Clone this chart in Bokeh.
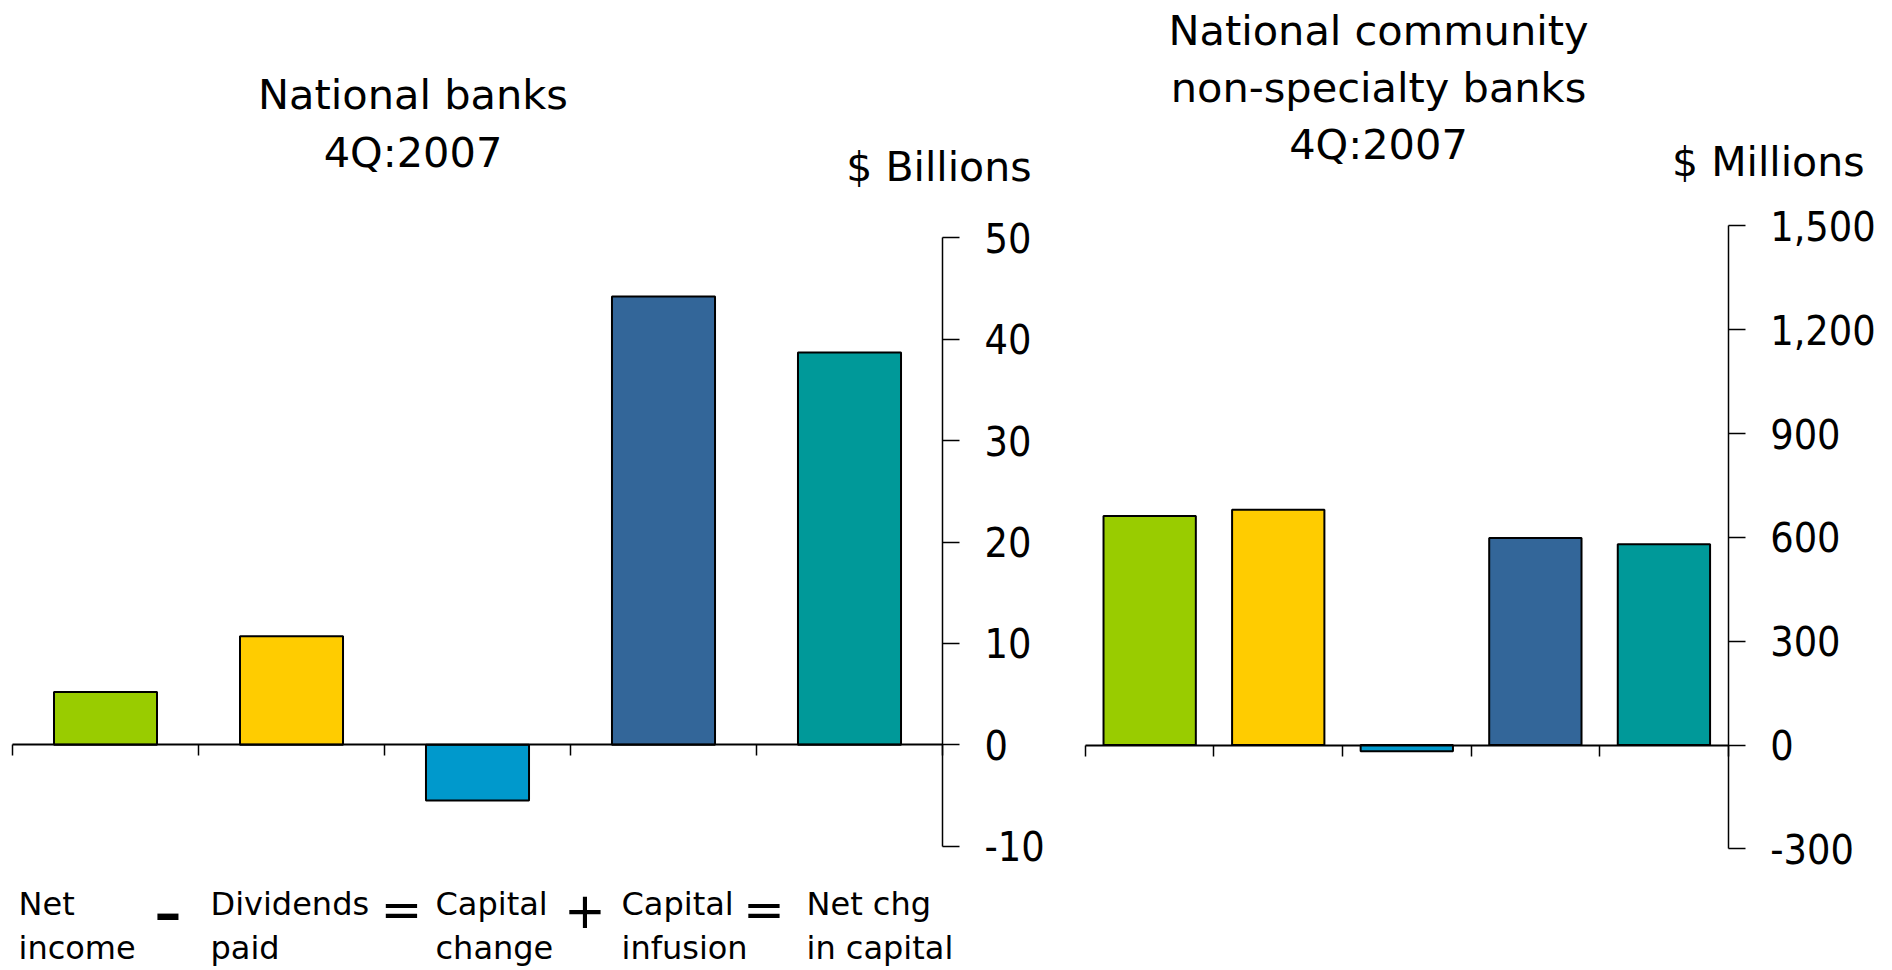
from bokeh.plotting import figure
from bokeh.models import Range1d, LinearAxis, FixedTicker, NumeralTickFormatter, ColumnDataSource
from bokeh.layouts import row
from bokeh.core.properties import value
from bokeh.embed import file_html
from bokeh.resources import INLINE

# ---------------- data ----------------
categories = ["Net income", "Dividends paid", "Capital change", "Capital infusion", "Net chg in capital"]
label_line1 = ["Net", "Dividends", "Capital", "Capital", "Net chg"]
label_line2 = ["income", "paid", "change", "infusion", "in capital"]
operators = ["-", "=", "+", "="]
colors = ["#99CC00", "#FFCC00", "#0099CC", "#336699", "#009999"]
national_banks = [5.2, 10.7, -5.5, 44.2, 38.7]        # $ billions
community_banks = [662, 680, -18, 598, 580]           # $ millions
left_ticks = [-10, 0, 10, 20, 30, 40, 50]
right_ticks = [-300, 0, 300, 600, 900, 1200, 1500]
left_title = ["National banks", "4Q:2007"]
right_title = ["National community", "non-specialty banks", "4Q:2007"]
left_unit = "$ Billions"
right_unit = "$ Millions"

FONT = "DejaVu Sans"
TICK_FONT = "DejaVu Sans Condensed"
H = 966
n = len(categories)


def make_panel(width, x_range, y_range, vals, ticks, bar_width, formatter):
    p = figure(width=width, height=H, x_range=x_range, y_range=y_range,
               output_backend="svg", toolbar_location=None,
               x_axis_location=None, y_axis_location=None,
               min_border=0, min_border_left=0, min_border_right=0,
               min_border_top=0, min_border_bottom=0)
    p.outline_line_color = None
    p.background_fill_color = "white"
    p.border_fill_color = "white"
    p.grid.visible = False
    src = ColumnDataSource(dict(x=[i + 0.5 for i in range(n)], top=vals, color=colors))
    p.vbar(x="x", top="top", bottom=0, width=bar_width, fill_color="color",
           line_color="black", line_width=2, source=src)

    xax = LinearAxis(fixed_location=0, bounds=(0, n),
                     ticker=FixedTicker(ticks=list(range(n + 1))),
                     major_tick_in=0, major_tick_out=11,
                     axis_line_width=2, major_tick_line_width=1.5,
                     minor_tick_line_color=None,
                     major_label_text_font_size="0px",
                     major_label_overrides={i: "" for i in range(n + 1)})
    p.add_layout(xax, "below")

    yax = LinearAxis(fixed_location=n, bounds=(ticks[0], ticks[-1]),
                     ticker=FixedTicker(ticks=ticks), formatter=formatter,
                     major_tick_in=0, major_tick_out=17,
                     axis_line_width=1.5, major_tick_line_width=1.5,
                     minor_tick_line_color=None,
                     major_label_text_font=TICK_FONT,
                     major_label_text_font_size="41px",
                     major_label_text_color="black",
                     major_label_standoff=25)
    p.add_layout(yax, "right")
    return p


def txt(p, xs, ys, texts, size, align):
    p.text(x=xs, y=ys, text=texts, text_font=value(FONT), text_font_size=size,
           text_align=align, text_baseline="alphabetic", text_color="black")


# ---------------- left panel: National banks ($ billions) ----------------
LW = 1050
lpx, lpy = 186.0, 10.14            # px per category, px per $bn
lzx, lzy = 12.0, 744.3             # page position of x=0 / y=0
p1 = make_panel(LW, Range1d(-lzx / lpx, (LW - lzx) / lpx),
                Range1d((lzy - H) / lpy, lzy / lpy),
                national_banks, left_ticks, 0.554, NumeralTickFormatter(format="0"))


def lx(page_x):
    return (page_x - lzx) / lpx


def ly(page_y):
    return (lzy - page_y) / lpy


txt(p1, [lx(412.5)] * 2, [ly(94), ly(152)], left_title, "41.5px", "center")
txt(p1, [lx(1031)], [ly(166)], [left_unit], "41px", "right")

label_x = [lx(v) for v in (18, 210, 435, 621, 806)]
txt(p1, label_x, [ly(903)] * n, label_line1, "32px", "left")
txt(p1, label_x, [ly(947)] * n, label_line2, "32px", "left")
# operators between the category labels
txt(p1, [lx(167.5)], [ly(909)], operators[:1], "80px", "center")
txt(p1, [lx(401), lx(584.4), lx(763.4)], [ly(909)] * 3, operators[1:], "50px", "center")

# ---------------- right panel: community banks ($ millions) ----------------
RW = 838
rpx, rpy = 128.56, 0.34611
rzx, rzy = 1084.9 - LW, 744.5      # x=0 relative to the right canvas, y=0 page
p2 = make_panel(RW, Range1d(-rzx / rpx, (RW - rzx) / rpx),
                Range1d((rzy - H) / rpy, rzy / rpy),
                community_banks, right_ticks, 0.718, NumeralTickFormatter(format="0,0"))


def rx(page_x):
    return (page_x - LW - rzx) / rpx


def ry(page_y):
    return (rzy - page_y) / rpy


txt(p2, [rx(1378)] * 3, [ry(30), ry(87), ry(144)], right_title, "41.5px", "center")
txt(p2, [rx(1864)], [ry(161)], [right_unit], "41px", "right")

layout = row(p1, p2)
open("out.html", "w").write(file_html(layout, INLINE))
